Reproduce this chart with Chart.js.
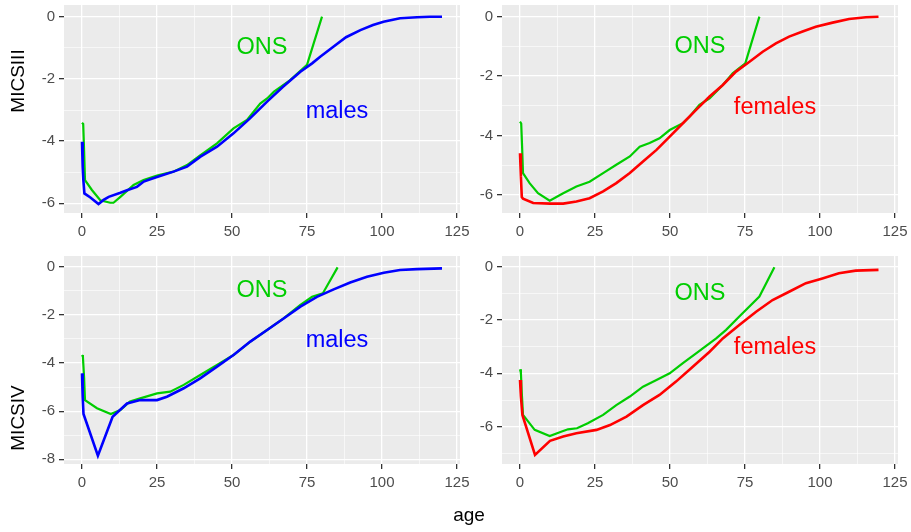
<!DOCTYPE html>
<html>
<head>
<meta charset="utf-8">
<script src="https://cdn.jsdelivr.net/npm/chart.js@4.4.1/dist/chart.umd.min.js"></script>
<style>
body{margin:0;background:#fff;width:911px;height:532px;overflow:hidden;position:relative;font-family:"Liberation Sans",Arial,sans-serif;}
canvas{position:absolute;left:0;top:0;}
.ylab{position:absolute;font-size:19px;color:#000;transform:translate(-50%,-50%) rotate(-90deg);white-space:nowrap;}
.xlab{position:absolute;font-size:19px;color:#000;transform:translate(-50%,-50%);white-space:nowrap;}
</style>
</head>
<body>
<canvas id="c1" width="911" height="532"></canvas>
<canvas id="c2" width="911" height="532"></canvas>
<canvas id="c3" width="911" height="532"></canvas>
<canvas id="c4" width="911" height="532"></canvas>
<div class="ylab" style="left:18px;top:81px">MICSIII</div>
<div class="ylab" style="left:18px;top:418px">MICSIV</div>
<div class="xlab" style="left:469px;top:515px">age</div>
<script>
// males, MICSIII
const MALE3_AGE = [0, 0.15, 0.3, 0.45, 0.8, 2.8, 5.5, 7.2, 8.9, 12.8, 15, 18.3, 20.6, 23, 25.5, 30.5, 35, 39.5, 45, 50.5, 56, 61.7, 67, 72.8, 76.7, 79.4, 84, 88, 92.8, 97, 100.5, 106, 111.7, 116, 120];
const MALE3_VAL = [-4.02, -4.35, -4.82, -5.25, -5.68, -5.81, -6.02, -5.89, -5.79, -5.66, -5.58, -5.47, -5.3, -5.22, -5.14, -4.98, -4.82, -4.5, -4.18, -3.75, -3.27, -2.73, -2.25, -1.77, -1.5, -1.29, -0.95, -0.66, -0.43, -0.27, -0.16, -0.05, -0.02, 0, 0];
const ONSM3_AGE = [0, 0.4, 0.7, 1, 3.3, 6.1, 9.4, 10.5, 12.8, 17.2, 20.5, 25, 30.5, 35, 39.5, 45, 50.5, 55, 59.4, 61.7, 64, 69.4, 75, 80];
const ONSM3_VAL = [-3.41, -3.45, -4.3, -5.25, -5.57, -5.9, -5.98, -5.98, -5.79, -5.41, -5.25, -5.11, -4.98, -4.77, -4.45, -4.07, -3.59, -3.32, -2.79, -2.63, -2.41, -2.04, -1.55, 0];

// females, MICSIII
const FEM3_AGE = [0, 0.3, 0.6, 1, 4.4, 10, 14.4, 18.8, 23.2, 27.7, 32.1, 36.6, 41, 45.5, 49.9, 54.3, 58.7, 63.2, 67.6, 72, 76.5, 80.9, 85.3, 89.7, 94.2, 98.6, 104.2, 109.7, 115.3, 119.5];
const FEM3_VAL = [-4.6, -5.39, -6.08, -6.13, -6.28, -6.3, -6.3, -6.23, -6.12, -5.89, -5.61, -5.27, -4.88, -4.49, -4.04, -3.59, -3.14, -2.69, -2.3, -1.85, -1.52, -1.18, -0.9, -0.67, -0.5, -0.34, -0.2, -0.08, -0.02, 0];
const ONSF3_AGE = [0, 0.4, 0.7, 1, 3.2, 6, 9.9, 14.4, 18.8, 23.2, 27.7, 32.1, 36.6, 39.9, 43.2, 46.5, 49.9, 54.3, 56.5, 59.8, 63.2, 67.6, 70.9, 75.1, 79.8];
const ONSF3_VAL = [-3.54, -3.6, -4.38, -5.27, -5.61, -5.95, -6.2, -5.95, -5.72, -5.56, -5.27, -4.99, -4.71, -4.38, -4.26, -4.1, -3.82, -3.59, -3.37, -2.97, -2.75, -2.3, -1.91, -1.57, 0];

// males, MICSIV
const MALE4_AGE = [0, 0.15, 0.3, 0.5, 5.3, 10.2, 15, 19.4, 25, 28.3, 33.9, 39.4, 45, 50.5, 56.1, 61.7, 67.2, 72.8, 78.3, 83.9, 89.4, 95, 100.6, 106, 111.7, 120];
const MALE4_VAL = [-4.43, -4.8, -5.4, -6.12, -7.85, -6.23, -5.68, -5.54, -5.54, -5.4, -5.05, -4.64, -4.15, -3.67, -3.11, -2.63, -2.15, -1.66, -1.25, -0.94, -0.66, -0.42, -0.25, -0.14, -0.1, -0.07];
const ONSM4_AGE = [0, 0.3, 0.7, 1, 5, 9.6, 12.8, 16, 19.4, 25, 29.4, 33.9, 39.4, 45, 50.5, 56.1, 61.7, 67.2, 72.8, 76.7, 80.3, 85.2];
const ONSM4_VAL = [-3.67, -3.74, -4.6, -5.54, -5.88, -6.12, -5.95, -5.6, -5.47, -5.26, -5.19, -4.91, -4.5, -4.08, -3.67, -3.11, -2.63, -2.15, -1.59, -1.25, -1.1, -0.03];

// females, MICSIV
const FEM4_AGE = [0, 0.3, 0.8, 5, 10, 14.4, 18.8, 25.5, 30, 35.5, 41, 46.5, 52, 57.6, 63.2, 67.6, 73.1, 78.7, 84.2, 89.7, 95.3, 100.8, 106.3, 111.9, 119.5];
const FEM4_VAL = [-4.25, -4.87, -5.56, -7.06, -6.53, -6.37, -6.25, -6.12, -5.94, -5.62, -5.19, -4.81, -4.31, -3.75, -3.19, -2.69, -2.19, -1.69, -1.25, -0.94, -0.62, -0.44, -0.25, -0.15, -0.12];
const ONSF4_AGE = [0, 0.3, 0.6, 1, 4.9, 9.9, 13.7, 16, 19, 22.6, 27.7, 32.1, 36.6, 41, 45.5, 49.9, 54.3, 58.7, 65.4, 68.7, 73.1, 79.8, 84.8];
const ONSF4_VAL = [-3.85, -3.99, -4.75, -5.56, -6.12, -6.35, -6.19, -6.1, -6.06, -5.87, -5.56, -5.19, -4.87, -4.5, -4.25, -4.0, -3.62, -3.25, -2.69, -2.37, -1.87, -1.12, -0.02];

const X_MAJOR = [0, 25, 50, 75, 100, 125];
const X_MINOR = [12.5, 37.5, 62.5, 87.5, 112.5];

// text labels: [text, age, value]
const ONS_LABEL = ["ONS", 60, -1];
const SEX_LABEL_AT = [85, -3.05];

const ONS_GREEN = "#00CD00";

Chart.defaults.font.family = "'Liberation Sans', Arial, sans-serif";

function pts(ages, vals){
    return ages.map((a, i) => ({x: a, y: vals[i]}));
}

const panelBg = {
    id: "panelBg",
    beforeDraw(chart){
        const a = chart.chartArea;
        const ctx = chart.ctx;
        ctx.save();
        ctx.fillStyle = "#EBEBEB";
        ctx.fillRect(a.left, a.top, a.right - a.left, a.bottom - a.top);
        ctx.restore();
    }
};

const panelText = {
    id: "panelText",
    afterDatasetsDraw(chart, args, opts){
        const ctx = chart.ctx;
        const xs = chart.scales.x, ys = chart.scales.y;
        ctx.save();
        ctx.font = "23.5px 'Liberation Sans', Arial, sans-serif";
        ctx.textAlign = "center";
        ctx.textBaseline = "middle";
        opts.labels.forEach(l => {
            ctx.fillStyle = l[3];
            ctx.fillText(l[0], xs.getPixelForValue(l[1]), ys.getPixelForValue(l[2]));
        });
        ctx.restore();
    }
};

function panel(id, model, ons, color, sexName, yMin, yMax, yMajor, yMinor, pad, yWidth){
    const isMajorX = v => X_MAJOR.includes(v);
    const isMajorY = v => yMajor.includes(v);
    new Chart(document.getElementById(id), {
        type: "line",
        data: {
            datasets: [
                {data: model, borderColor: color, borderWidth: 2.6, pointRadius: 0, tension: 0},
                {data: ons, borderColor: ONS_GREEN, borderWidth: 2.2, pointRadius: 0, tension: 0}
            ]
        },
        options: {
            responsive: false,
            animation: false,
            layout: {padding: pad},
            plugins: {
                legend: {display: false},
                tooltip: {enabled: false},
                panelText: {labels: [
                    [ONS_LABEL[0], ONS_LABEL[1], ONS_LABEL[2], ONS_GREEN],
                    [sexName, SEX_LABEL_AT[0], SEX_LABEL_AT[1], color]
                ]}
            },
            scales: {
                x: {
                    type: "linear", min: -6, max: 126,
                    afterBuildTicks: s => { s.ticks = X_MAJOR.concat(X_MINOR).map(v => ({value: v})); },
                    afterFit: s => { s.height = 37; s.paddingLeft = 0; s.paddingRight = 0; },
                    border: {display: false},
                    grid: {
                        color: "#FFFFFF",
                        lineWidth: c => isMajorX(c.tick.value) ? 1.3 : 0.6,
                        tickColor: c => isMajorX(c.tick.value) ? "#333333" : "rgba(0,0,0,0)",
                        tickLength: 5
                    },
                    ticks: {
                        autoSkip: false, maxRotation: 0, padding: 5,
                        color: "#4D4D4D", font: {size: 15},
                        callback: v => isMajorX(v) ? String(v) : ""
                    }
                },
                y: {
                    type: "linear", min: yMin, max: yMax,
                    afterBuildTicks: s => { s.ticks = yMajor.concat(yMinor).map(v => ({value: v})); },
                    afterFit: s => { s.width = yWidth; s.paddingTop = 0; s.paddingBottom = 0; },
                    border: {display: false},
                    grid: {
                        color: "#FFFFFF",
                        lineWidth: c => isMajorY(c.tick.value) ? 1.3 : 0.6,
                        tickColor: c => isMajorY(c.tick.value) ? "#333333" : "rgba(0,0,0,0)",
                        tickLength: 5
                    },
                    ticks: {
                        autoSkip: false, padding: 4,
                        color: "#4D4D4D", font: {size: 15},
                        callback: v => isMajorY(v) ? String(v) : ""
                    }
                }
            }
        },
        plugins: [panelBg, panelText]
    });
}

panel("c1", pts(MALE3_AGE, MALE3_VAL), pts(ONSM3_AGE, ONSM3_VAL), "#0000FF", "males",
    -6.31, 0.376, [0, -2, -4, -6], [-1, -3, -5], {left: 0, top: 5, right: 451, bottom: 282}, 64);
panel("c2", pts(FEM3_AGE, FEM3_VAL), pts(ONSF3_AGE, ONSF3_VAL), "#FF0000", "females",
    -6.616, 0.394, [0, -2, -4, -6], [-1, -3, -5], {left: 462, top: 5, right: 13, bottom: 282}, 40);
panel("c3", pts(MALE4_AGE, MALE4_VAL), pts(ONSM4_AGE, ONSM4_VAL), "#0000FF", "males",
    -8.195, 0.444, [0, -2, -4, -6, -8], [-1, -3, -5, -7], {left: 0, top: 256, right: 451, bottom: 31}, 64);
panel("c4", pts(FEM4_AGE, FEM4_VAL), pts(ONSF4_AGE, ONSF4_VAL), "#FF0000", "females",
    -7.40, 0.40, [0, -2, -4, -6], [-1, -3, -5, -7], {left: 462, top: 256, right: 13, bottom: 31}, 40);
</script>
</body>
</html>
